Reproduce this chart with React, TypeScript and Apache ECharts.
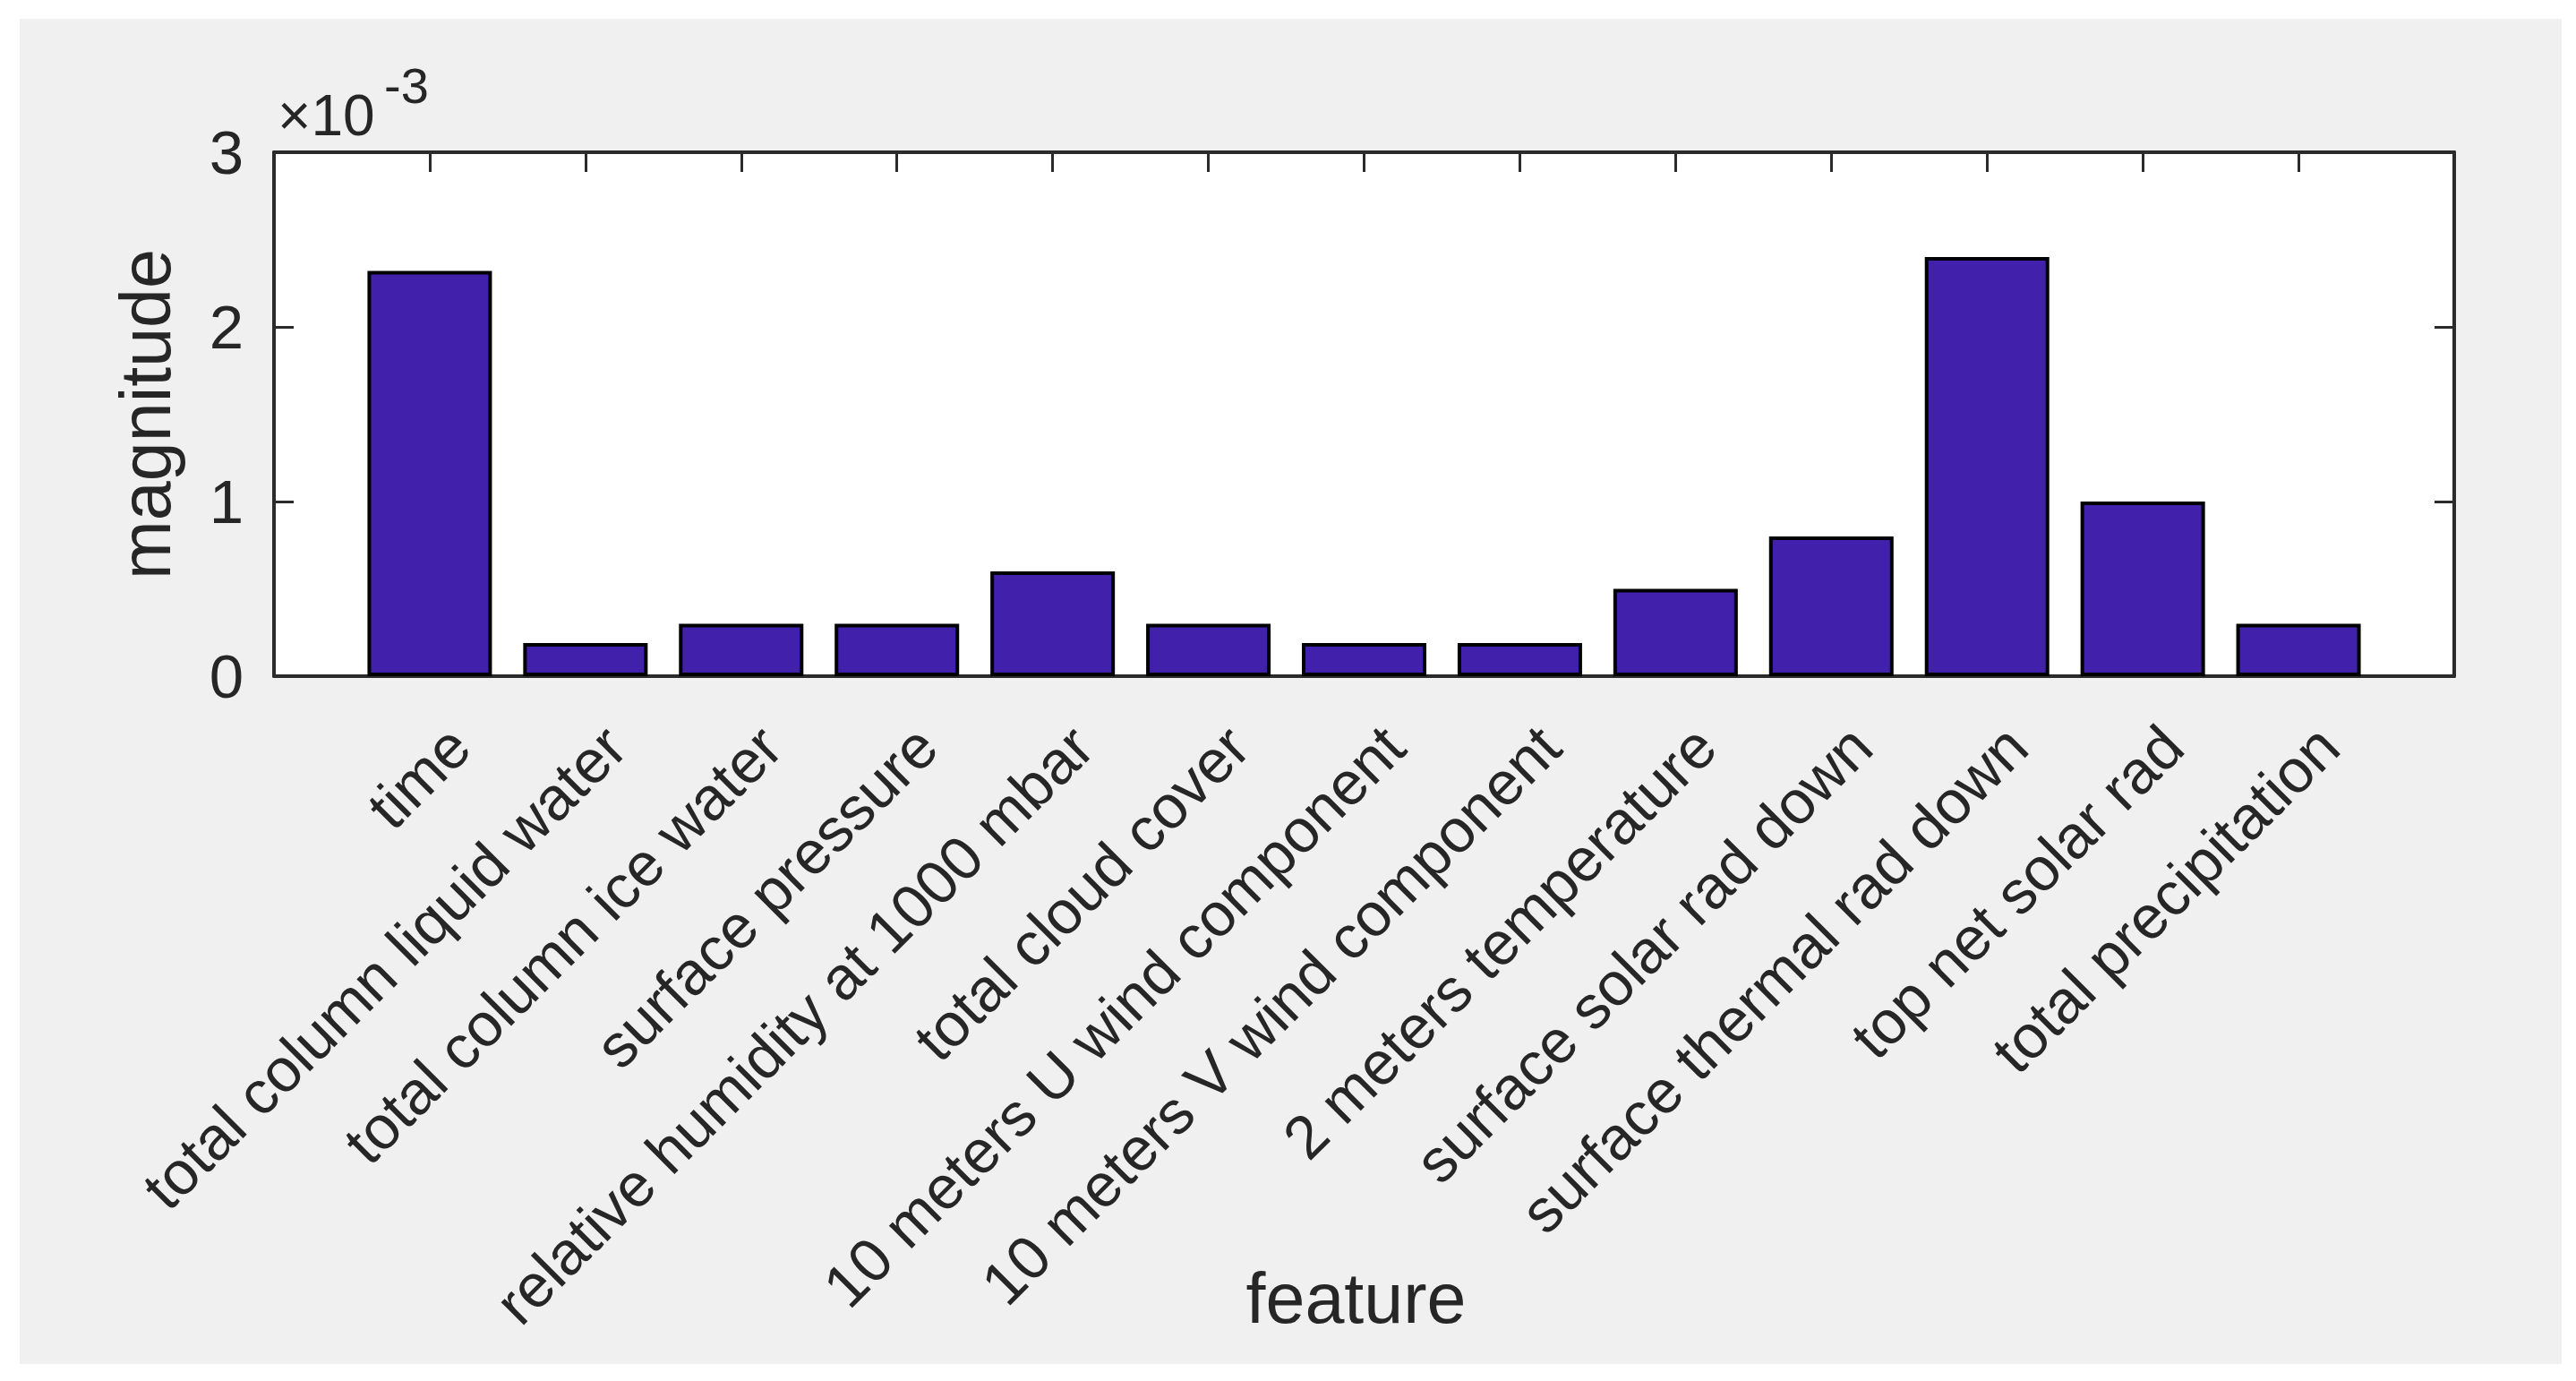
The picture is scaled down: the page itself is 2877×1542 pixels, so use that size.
import React, { useEffect, useRef } from 'react';
import * as echarts from 'echarts';

const categories = [
  'time',
  'total column liquid water',
  'total column ice water',
  'surface pressure',
  'relative humidity at 1000 mbar',
  'total cloud cover',
  '10 meters U wind component',
  '10 meters V wind component',
  '2 meters temperature',
  'surface solar rad down',
  'surface thermal rad down',
  'top net solar rad',
  'total precipitation',
];
const magnitudes = [
  0.00232, 0.00019, 0.0003, 0.0003, 0.0006, 0.0003, 0.00019, 0.00019, 0.0005, 0.0008, 0.0024, 0.001, 0.0003,
];
const yMin = 0;
const yMax = 0.003;
const yStep = 0.001;
const exponentBase = '×10';
const exponentPower = '-3';
const xTitle = 'feature';
const yTitle = 'magnitude';

const FONT = '"Liberation Sans", Arial, Helvetica, sans-serif';
const INK = '#262626';
const AXIS = '#2b2b2b';

export default function App() {
  const ref = useRef<HTMLDivElement>(null);
  useEffect(() => {
    if (!ref.current) return;
    const chart = echarts.init(ref.current, null, { renderer: 'svg' });
    const xMin = 0;
    const xMax = categories.length + 1;
    const tickStyle = { show: true, inside: true, length: 22, lineStyle: { color: AXIS, width: 3 } };
    const lineStyle = { show: true, onZero: false, lineStyle: { color: AXIS, width: 4 } };
    chart.setOption({
      animation: false,
      backgroundColor: '#F0F0F0',
      textStyle: { fontFamily: FONT, color: INK },
      grid: {
        left: 284,
        top: 149,
        width: 2435,
        height: 585,
        containLabel: false,
        outerBoundsMode: 'none',
        show: true,
        backgroundColor: '#ffffff',
        borderWidth: 0,
      },
      xAxis: [
        {
          type: 'value',
          position: 'bottom',
          min: xMin,
          max: xMax,
          interval: 1,
          splitLine: { show: false },
          axisLine: lineStyle,
          axisTick: tickStyle,
          axisLabel: {
            rotate: 45,
            margin: 34,
            fontSize: 68,
            lineHeight: 93,
            verticalAlign: 'top',
            color: INK,
            fontFamily: FONT,
            formatter: (v: number) => categories[Math.round(v) - 1] ?? '',
          },
          name: xTitle,
          nameLocation: 'middle',
          nameGap: 655,
          nameMoveOverlap: false,
          nameTextStyle: { fontSize: 79, color: INK, fontFamily: FONT, padding: [0, 18, 0, 0] },
        },
        {
          type: 'value',
          position: 'top',
          min: xMin,
          max: xMax,
          interval: 1,
          splitLine: { show: false },
          axisLine: lineStyle,
          axisTick: tickStyle,
          axisLabel: { show: false },
        },
      ],
      yAxis: [
        {
          type: 'value',
          position: 'left',
          min: yMin,
          max: yMax,
          interval: yStep,
          splitLine: { show: false },
          axisLine: lineStyle,
          axisTick: tickStyle,
          axisLabel: {
            margin: 34,
            fontSize: 69,
            color: INK,
            fontFamily: FONT,
            formatter: (v: number) => String(Math.round(v / yStep)),
          },
          name: yTitle,
          nameLocation: 'middle',
          nameGap: 104,
          nameMoveOverlap: false,
          nameTextStyle: { fontSize: 79, color: INK, fontFamily: FONT },
        },
        {
          type: 'value',
          position: 'right',
          min: yMin,
          max: yMax,
          interval: yStep,
          splitLine: { show: false },
          axisLine: lineStyle,
          axisTick: tickStyle,
          axisLabel: { show: false },
        },
      ],
      graphic: [
        {
          type: 'text',
          left: 288,
          top: 76,
          style: { text: exponentBase, fontSize: 64, fontFamily: FONT, fill: INK },
        },
        {
          type: 'text',
          left: 407,
          top: 46,
          style: { text: exponentPower, fontSize: 56, fontFamily: FONT, fill: INK },
        },
      ],
      series: [
        {
          type: 'bar',
          xAxisIndex: 0,
          yAxisIndex: 0,
          barWidth: 139,
          data: magnitudes.map((m, i) => [i + 1, m]),
          itemStyle: { color: '#4120AB', borderColor: '#000000', borderWidth: 4 },
          silent: true,
        },
      ],
    });
    return () => chart.dispose();
  }, []);
  return (
    <div style={{ position: 'absolute', left: 0, top: 0, width: 2877, height: 1542, background: '#ffffff' }}>
      <div ref={ref} style={{ position: 'absolute', left: 22, top: 21, width: 2839, height: 1502 }} />
    </div>
  );
}
